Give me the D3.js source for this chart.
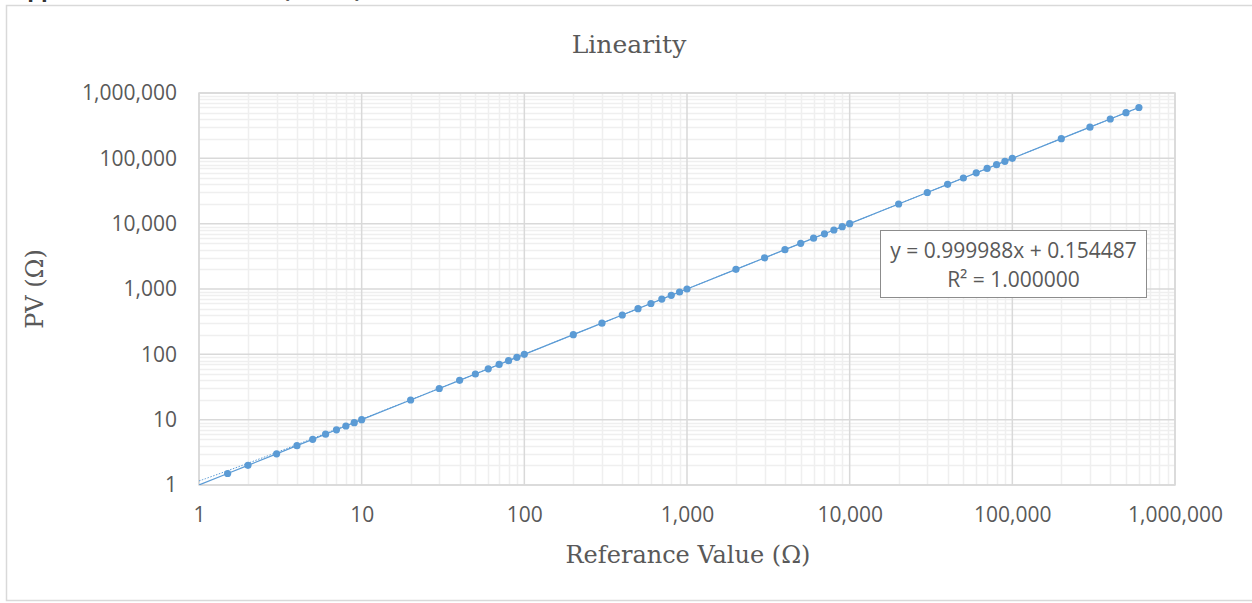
<!DOCTYPE html>
<html>
<head>
<meta charset="utf-8">
<script src="https://cdn.jsdelivr.net/npm/d3@7"></script>
<style>
  html, body { margin: 0; padding: 0; background: #fff; }
  svg { display: block; }
</style>
</head>
<body>
<svg id="chart"></svg>
<script>
// Reference values (x) and measured PV (y)
const refValues = [1, 1.5, 2, 3, 4, 5, 6, 7, 8, 9, 10, 20, 30, 40, 50, 60, 70, 80, 90, 100,
  200, 300, 400, 500, 600, 700, 800, 900, 1000, 2000, 3000, 4000, 5000, 6000, 7000, 8000, 9000, 10000,
  20000, 30000, 40000, 50000, 60000, 70000, 80000, 90000, 100000,
  200000, 300000, 400000, 500000, 600000];
const pvValues = [1, 1.5, 2, 3, 4, 5, 6, 7, 8, 9, 10, 20, 30, 40, 50, 60, 70, 80, 90, 100,
  200, 300, 400, 500, 600, 700, 800, 900, 1000, 2000, 3000, 4000, 5000, 6000, 7000, 8000, 9000, 10000,
  20000, 30000, 40000, 50000, 60000, 70000, 80000, 90000, 100000,
  200000, 300000, 400000, 500000, 600000];
const tickValues = [1, 10, 100, 1000, 10000, 100000, 1000000];
const trendSlope = 0.999988;
const trendIntercept = 0.154487;
const equationLines = ["y = 0.999988x + 0.154487", "R\u00b2 = 1.000000"];

const W = 1252, H = 603;
const margin = {top: 93, right: 77, bottom: 118, left: 199};
const iw = W - margin.left - margin.right,
      ih = H - margin.top - margin.bottom;

const blue = "#5b9bd5";
const textColor = "#595959";
const slab = "'DejaVu Serif', serif";
const sans = "'Open Sans', 'Liberation Sans', sans-serif";

const svg = d3.select("#chart").attr("width", W).attr("height", H);

// document heading, cut off above the chart (only descenders show)
svg.append("text")
  .attr("x", 12).attr("y", -3)
  .style("font-family", sans).style("font-weight", "bold").style("font-size", "22px")
  .attr("fill", "#333")
  .text("Appendix A \u2013 Resistance (Ohms)");

// chart frame
svg.append("rect")
  .attr("x", 6.5).attr("y", 5.5).attr("width", W + 10).attr("height", 595)
  .attr("fill", "none").attr("stroke", "#d9d9d9").attr("stroke-width", 1.5);

const x = d3.scaleLog().domain([1, 1e6]).range([0, iw]);
const y = d3.scaleLog().domain([1, 1e6]).range([ih, 0]);

const g = svg.append("g").attr("transform", `translate(${margin.left},${margin.top})`);

// minor gridlines
const minor = [];
for (let d = 1; d < 1e6; d *= 10) for (let k = 2; k <= 9; k++) minor.push(d * k);

g.append("g").selectAll("line.mx").data(minor).enter().append("line")
  .attr("x1", d => Math.round(x(d)) + 0.5).attr("x2", d => Math.round(x(d)) + 0.5)
  .attr("y1", 0).attr("y2", ih)
  .attr("stroke", "#efefef").attr("stroke-width", 1.5);
g.append("g").selectAll("line.my").data(minor).enter().append("line")
  .attr("y1", d => Math.round(y(d)) + 0.5).attr("y2", d => Math.round(y(d)) + 0.5)
  .attr("x1", 0).attr("x2", iw)
  .attr("stroke", "#efefef").attr("stroke-width", 1.5);

// major gridlines
g.append("g").selectAll("line").data(tickValues).enter().append("line")
  .attr("x1", d => x(d)).attr("x2", d => x(d))
  .attr("y1", 0).attr("y2", ih)
  .attr("stroke", "#d9d9d9").attr("stroke-width", 1.5);
g.append("g").selectAll("line").data(tickValues).enter().append("line")
  .attr("y1", d => y(d)).attr("y2", d => y(d))
  .attr("x1", 0).attr("x2", iw)
  .attr("stroke", "#d9d9d9").attr("stroke-width", 1.5);

// plot area border
g.append("rect").attr("width", iw).attr("height", ih)
  .attr("fill", "none").attr("stroke", "#d9d9d9").attr("stroke-width", 1.5);

// axes (labels only)
const fmt = d3.format(",");
const xAxis = g.append("g").attr("transform", `translate(0,${ih})`)
  .call(d3.axisBottom(x).tickValues(tickValues).tickFormat(fmt).tickSize(0).tickPadding(22));
const yAxis = g.append("g")
  .call(d3.axisLeft(y).tickValues(tickValues).tickFormat(fmt).tickSize(0).tickPadding(22));
[xAxis, yAxis].forEach(a => {
  a.select(".domain").remove();
  a.selectAll("text").style("font-family", sans).style("font-size", "21px").attr("fill", textColor);
});

const clip = svg.append("clipPath").attr("id", "clip")
  .append("rect").attr("width", iw).attr("height", ih);
const plot = g.append("g").attr("clip-path", "url(#clip)");

const pts = refValues.map((v, i) => ({x: v, y: pvValues[i]}));

// linear trendline (dotted), drawn on log axes
const trendX = d3.range(0, 5.7782, 0.02).map(e => Math.pow(10, e));
plot.append("path")
  .datum(trendX)
  .attr("fill", "none").attr("stroke", blue).attr("stroke-width", 1)
  .attr("stroke-dasharray", "1.5,1.5")
  .attr("d", d3.line().x(d => x(d)).y(d => y(trendSlope * d + trendIntercept)));

// series line
plot.append("path")
  .datum(pts)
  .attr("fill", "none").attr("stroke", blue).attr("stroke-width", 1.2)
  .attr("d", d3.line().x(d => x(d.x)).y(d => y(d.y)));

// markers
plot.selectAll("circle").data(pts.slice(1)).enter().append("circle")
  .attr("cx", d => x(d.x)).attr("cy", d => y(d.y)).attr("r", 3.6)
  .attr("fill", blue);

// equation box
const bx = 880.5, by = 230.5, bw = 266, bh = 67;
svg.append("rect").attr("x", bx).attr("y", by).attr("width", bw).attr("height", bh)
  .attr("fill", "#fff").attr("stroke", "#8c8c8c").attr("stroke-width", 1);
svg.append("g").selectAll("text").data(equationLines).enter().append("text")
  .attr("x", bx + bw / 2).attr("y", (d, i) => by + 27 + i * 29)
  .attr("text-anchor", "middle")
  .style("font-family", sans).style("font-size", "21px").attr("fill", textColor)
  .text(d => d);

// titles
svg.append("text").attr("x", 629).attr("y", 53).attr("text-anchor", "middle")
  .style("font-family", slab).style("font-size", "25px").attr("fill", textColor)
  .text("Linearity");
svg.append("text").attr("x", 688).attr("y", 563).attr("text-anchor", "middle")
  .style("font-family", slab).style("font-size", "24px").attr("fill", textColor)
  .text("Referance Value (\u03a9)");
svg.append("text").attr("transform", "translate(43,289) rotate(-90)").attr("text-anchor", "middle")
  .style("font-family", slab).style("font-size", "24px").attr("fill", textColor)
  .text("PV (\u03a9)");
</script>
</body>
</html>
